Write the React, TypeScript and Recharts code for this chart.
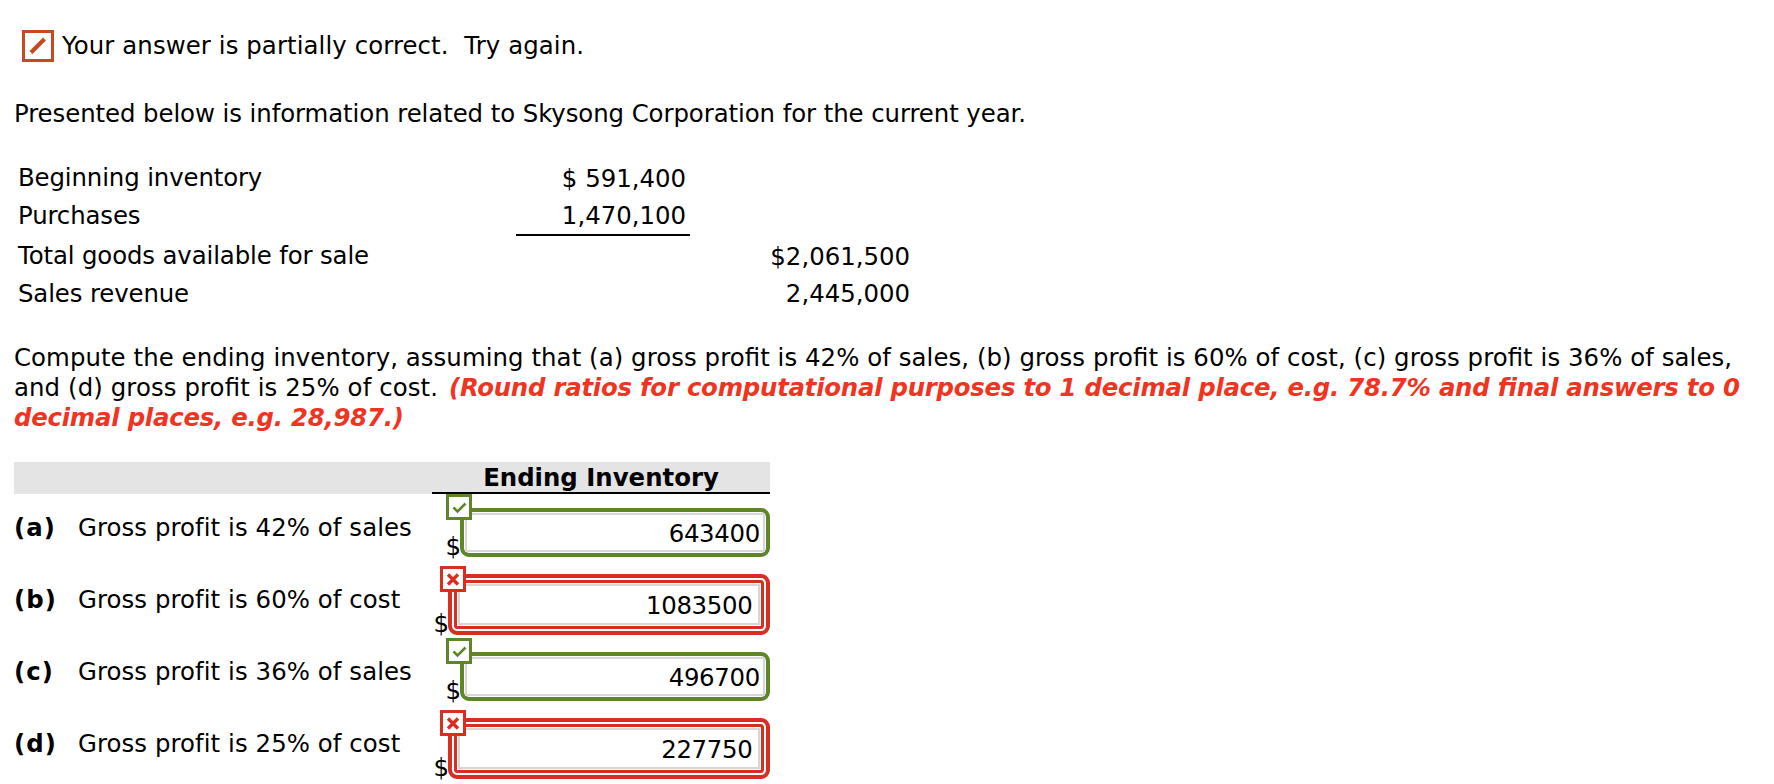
import { Bar, BarChart, LabelList, XAxis, YAxis } from 'recharts'

const FONT = '"DejaVu Sans", Verdana, sans-serif'
const SIZE = 24.4
const GREEN = '#5f8526'
const RED = '#d92d20'
const ORANGE = '#c8481f'

const ledgerLabels = ['Beginning inventory', 'Purchases', 'Total goods available for sale', 'Sales revenue']
const ledgerFirstColumn = [591400, 1470100, null, null]
const ledgerSecondColumn = [null, null, 2061500, 2445000]
const ledgerPrefixes = ['$ ', '', '$', '']
const ledgerNudges = [0, -1, 1, 0]

const answerLetters = ['(a)', '(b)', '(c)', '(d)']
const answerLabels = [
  'Gross profit is 42% of sales',
  'Gross profit is 60% of cost',
  'Gross profit is 36% of sales',
  'Gross profit is 25% of cost',
]
const answerValues = [643400, 1083500, 496700, 227750]
const answerCorrect = [true, false, true, false]

const ledgerData = ledgerLabels.map((label, i) => ({
  label,
  first: ledgerFirstColumn[i],
  second: ledgerSecondColumn[i],
}))

const answerData = answerLabels.map((label, i) => ({
  label,
  letter: answerLetters[i],
  value: answerValues[i],
  correct: answerCorrect[i],
}))

function Prose({ x, y, len, bold, children }: any) {
  return (
    <text
      x={x}
      y={y}
      textLength={len}
      lengthAdjust="spacing"
      fontFamily={FONT}
      fontSize={SIZE}
      fill={bold ? '#f0341f' : '#000'}
      fontWeight={bold ? 700 : 400}
      fontStyle={bold ? 'oblique' : 'normal'}
      style={{ whiteSpace: 'pre' }}
    >
      {children}
    </text>
  )
}

function LedgerTick({ y, payload, index }: any) {
  return (
    <text x={18} y={y + 9 + ledgerNudges[index]} fontFamily={FONT} fontSize={SIZE} letterSpacing={-0.12} fill="#000">
      {payload.value}
    </text>
  )
}

// the label's index skips empty cells, so the row is looked up by value
function amountLabel(right: number) {
  return ({ y, height, value }: any) => {
    if (value == null) return null
    const row = ledgerData.findIndex((d) => d.first === value || d.second === value)
    const mid = y + height / 2 + ledgerNudges[row]
    return (
      <g>
        <text x={right} y={mid + 9} textAnchor="end" fontFamily={FONT} fontSize={SIZE} fill="#000" style={{ whiteSpace: 'pre' }}>
          {ledgerPrefixes[row] + Number(value).toLocaleString('en-US')}
        </text>
        {row === 1 && <line x1={516} x2={690} y1={mid + 20} y2={mid + 20} stroke="#000" strokeWidth={2} />}
      </g>
    )
  }
}

function AnswerTick({ y, index, payload }: any) {
  return (
    <text x={14} y={y + 4} fontFamily={FONT} fontSize={SIZE} fill="#000">
      <tspan fontWeight={700} letterSpacing={1.1}>{answerLetters[index]}</tspan>
      <tspan x={78} letterSpacing={0.08}>{payload.value}</tspan>
    </text>
  )
}

function AnswerField({ x, y, height, payload }: any) {
  const ok = payload.correct
  const right = x + 338
  const mid = y + height / 2 + 0.5
  const color = ok ? GREEN : RED
  const left = ok ? x + 30 : x + 18
  const halfH = ok ? 22.5 : 28.5
  const top = mid - halfH
  const w = right - left - 2
  const h = halfH * 2
  const iconX = ok ? x + 15.5 : x + 9.5
  const iconY = top - (ok ? 14.5 : 8.5)
  const textRight = ok ? right - 10 : right - 17.5
  return (
    <g>
      <rect x={left} y={top} width={w} height={h} rx={7} fill="#fff" stroke={color} strokeWidth={4} />
      {!ok && <rect x={left + 5.5} y={top + 5.5} width={w - 11} height={h - 11} rx={2} fill="#fff" stroke={color} strokeWidth={3} />}
      <rect
        x={left + (ok ? 4 : 9)}
        y={top + (ok ? 4 : 9)}
        width={w - (ok ? 8 : 18)}
        height={h - (ok ? 8 : 18)}
        fill="#fff"
        stroke="#d6d6d6"
        strokeWidth={2}
      />
      <rect x={iconX} y={iconY} width={23} height={23} fill="#fff" stroke={color} strokeWidth={3} />
      {ok ? (
        <path d={`M${iconX + 6} ${iconY + 12} l4 4 l8 -8`} fill="none" stroke={color} strokeWidth={2.5} />
      ) : (
        <path d={`M${iconX + 6.5} ${iconY + 7} l10 10 m0 -10 l-10 10`} fill="none" stroke={color} strokeWidth={3.4} />
      )}
      <text x={textRight} y={mid + 9} textAnchor="end" fontFamily={FONT} fontSize={SIZE} letterSpacing={-0.3} fill="#000">
        {payload.value}
      </text>
      <text x={left - 1} y={top + h - (ok ? 0 : 1)} textAnchor="end" fontFamily={FONT} fontSize={SIZE} fill="#000">
        $
      </text>
    </g>
  )
}

export default function App() {
  return (
    <div style={{ position: 'absolute', left: 0, top: 0, width: 1774, height: 784, background: '#fff', overflow: 'hidden' }}>
      <svg width={1774} height={784} style={{ position: 'absolute', left: 0, top: 0 }}>
        <rect x={23.5} y={31.5} width={29} height={29} fill="#fff" stroke={ORANGE} strokeWidth={3} />
        <line x1={31} y1={52.5} x2={44.5} y2={39} stroke={ORANGE} strokeWidth={4} />
        <Prose x={62} y={54} len={522}>Your answer is partially correct.  Try again.</Prose>
        <Prose x={14} y={122} len={1012}>Presented below is information related to Skysong Corporation for the current year.</Prose>
        <Prose x={14} y={366} len={1718}>Compute the ending inventory, assuming that (a) gross profit is 42% of sales, (b) gross profit is 60% of cost, (c) gross profit is 36% of sales,</Prose>
        <Prose x={14} y={396} len={424}>and (d) gross profit is 25% of cost.</Prose>
        <Prose x={449} y={396} len={1291} bold>(Round ratios for computational purposes to 1 decimal place, e.g. 78.7% and final answers to 0</Prose>
        <Prose x={14} y={426} len={390} bold>decimal places, e.g. 28,987.)</Prose>
        <rect x={14} y={462} width={756} height={32} fill="#e4e4e4" />
      </svg>

      <div style={{ position: 'absolute', left: 0, top: 158 }}>
        <BarChart
          width={1000}
          height={154}
          data={ledgerData}
          layout="vertical"
          barCategoryGap={0}
          margin={{ top: 0, right: 0, bottom: 0, left: 0 }}
        >
          <XAxis type="number" hide domain={[0, 2445000]} />
          <YAxis type="category" dataKey="label" width={400} axisLine={false} tickLine={false} tick={<LedgerTick />} interval={0} />
          <Bar dataKey="first" stackId="ledger" fill="none" isAnimationActive={false}>
            <LabelList dataKey="first" content={amountLabel(686)} />
          </Bar>
          <Bar dataKey="second" stackId="ledger" fill="none" isAnimationActive={false}>
            <LabelList dataKey="second" content={amountLabel(910)} />
          </Bar>
        </BarChart>
      </div>

      <div style={{ position: 'absolute', left: 0, top: 0 }}>
        <BarChart
          width={1774}
          height={784}
          data={answerData}
          layout="vertical"
          barCategoryGap={0}
          margin={{ top: 461, right: 1004, bottom: 0, left: 0 }}
        >
          <XAxis
            type="number"
            orientation="top"
            height={32}
            domain={[0, 1083500]}
            tick={false}
            tickLine={false}
            axisLine={{ stroke: '#000', strokeWidth: 2 }}
            label={{
              value: 'Ending Inventory',
              position: 'center',
              fontFamily: FONT,
              fontSize: SIZE,
              fontWeight: 700,
              fill: '#000',
            }}
          />
          <YAxis
            type="category"
            dataKey="label"
            width={432}
            axisLine={false}
            tickLine={false}
            tick={<AnswerTick />}
            interval={0}
            padding={{ top: 3, bottom: 0 }}
          />
          <Bar dataKey="value" shape={<AnswerField />} isAnimationActive={false} />
        </BarChart>
      </div>
    </div>
  )
}
